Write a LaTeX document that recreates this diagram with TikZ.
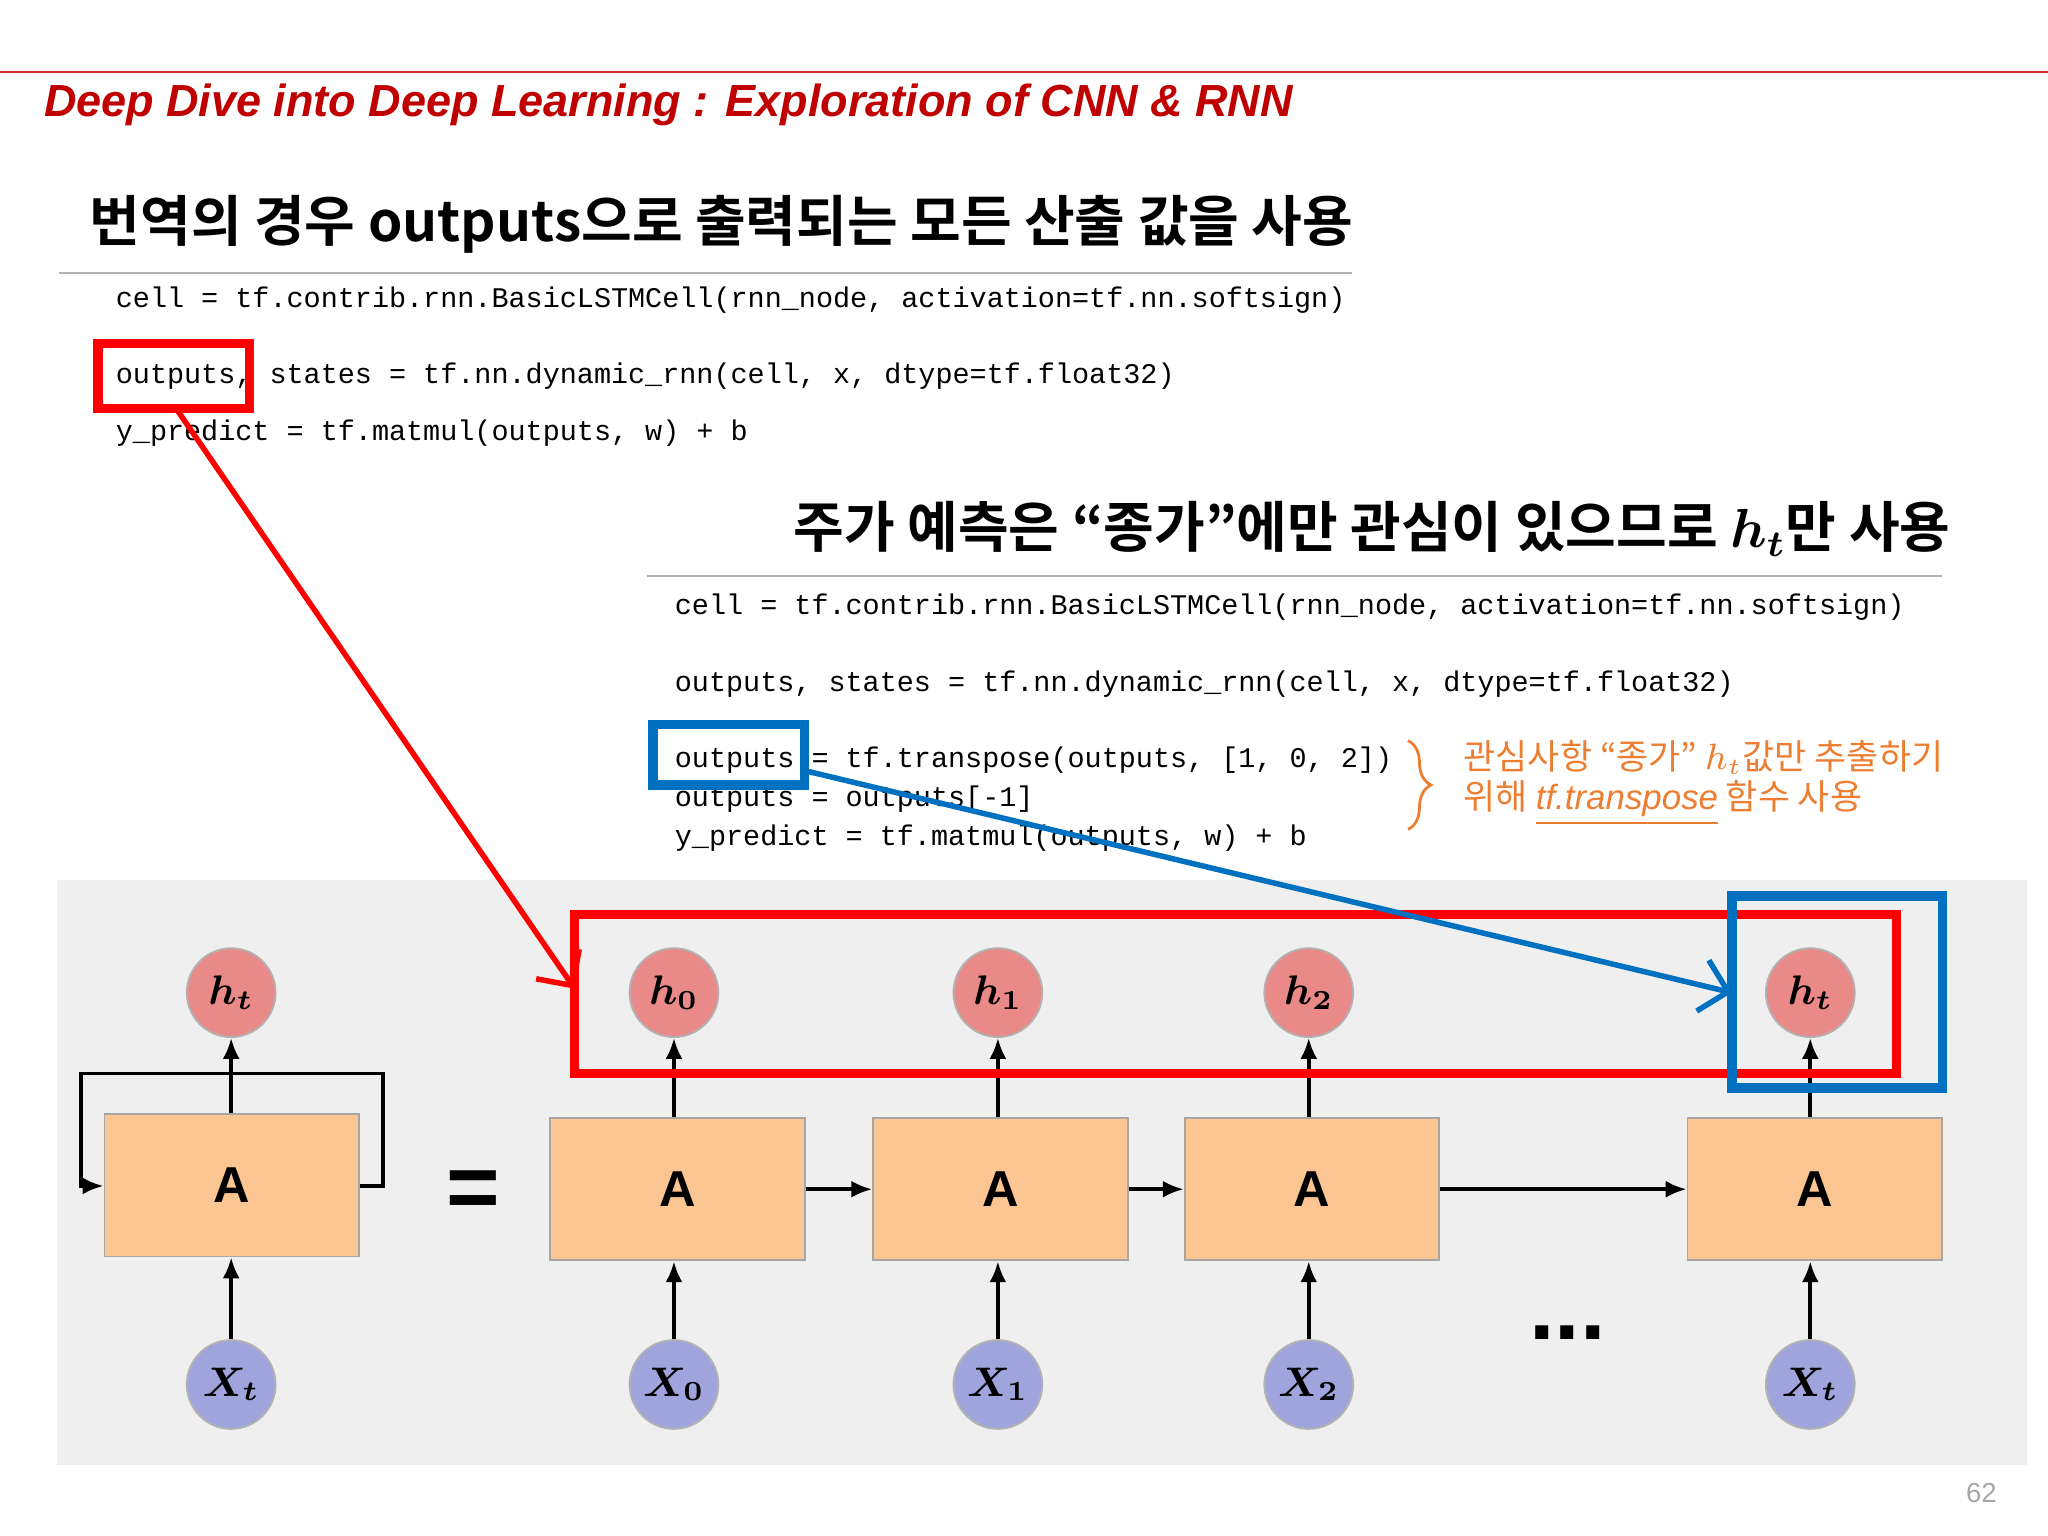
\documentclass[tikz,border=0pt]{standalone}
\usepackage{bm}
\usepackage{fontspec}
\setmainfont{Liberation Sans}
\newfontfamily\kr{Noto Sans CJK KR}
\newfontfamily\krb{Noto Sans CJK KR}[BoldFont={* Bold}]
\newfontfamily\codef{Liberation Mono}
\newfontfamily\lsans{Liberation Sans}
\usetikzlibrary{arrows.meta,decorations.pathreplacing}
\definecolor{titlered}{RGB}{192,0,0}
\definecolor{boxfill}{RGB}{252,198,146}
\definecolor{hfill}{RGB}{234,138,136}
\definecolor{xfill}{RGB}{160,164,220}
\definecolor{bgg}{RGB}{239,239,239}
\definecolor{myblue}{RGB}{0,112,192}
\definecolor{myorange}{RGB}{237,125,49}
\tikzset{
 abox/.style={draw=gray!70,fill=boxfill,minimum width=1.95cm,minimum height=1.09cm,font=\fontsize{11}{11}\selectfont\bfseries},
 hc/.style={circle,draw=gray!60,fill=hfill,minimum size=0.68cm,inner sep=0pt,font=\fontsize{9}{9}\selectfont},
 xc/.style={circle,draw=gray!60,fill=xfill,minimum size=0.68cm,inner sep=0pt,font=\fontsize{9}{9}\selectfont},
 arr/.style={-{Latex[length=1.6mm,width=1.3mm]},line width=0.8pt},
 code/.style={anchor=west,inner sep=0pt,font=\codef\fontsize{6.2}{6.2}\selectfont},
 note/.style={anchor=west,inner sep=0pt,text=myorange,font=\kr\fontsize{7.6}{7.6}\selectfont},
}
\begin{document}
\begin{tikzpicture}
\useasboundingbox (0,0) rectangle (15.68,-11.76);
\draw[titlered!80,line width=0.5pt] (0,-0.55) -- (15.68,-0.55);
\node[anchor=west,inner sep=0pt,text=titlered,font=\fontsize{9.8}{9.8}\selectfont\bfseries\itshape] (title) at (0.33,-0.80) {Deep Dive into Deep Learning : Exploration of CNN \& RNN};
\node[anchor=west,inner sep=0pt,font=\krb\fontsize{12}{12}\selectfont\bfseries] (h1) at (0.68,-1.72) {번역의 경우 outputs으로 출력되는 모든 산출 값을 사용};
\draw[gray!60] (0.45,-2.09) -- (10.35,-2.09);
\node[code] (c1) at (0.88,-2.30) {cell = tf.contrib.rnn.BasicLSTMCell(rnn\_node, activation=tf.nn.softsign)};
\node[code] (c2) at (0.88,-2.88) {outputs, states = tf.nn.dynamic\_rnn(cell, x, dtype=tf.float32)};
\node[code] (c3) at (0.88,-3.32) {y\_predict = tf.matmul(outputs, w) + b};
\node[anchor=west,inner sep=0pt,font=\krb\fontsize{12}{12}\selectfont\bfseries] (h2) at (6.07,-4.05) {주가 예측은 “종가”에만 관심이 있으므로 $\bm{h_t}$만 사용};
\draw[gray!60] (4.95,-4.41) -- (14.87,-4.41);
\node[code] (d1) at (5.16,-4.65) {cell = tf.contrib.rnn.BasicLSTMCell(rnn\_node, activation=tf.nn.softsign)};
\node[code] (d2) at (5.16,-5.24) {outputs, states = tf.nn.dynamic\_rnn(cell, x, dtype=tf.float32)};
\node[code] (d3) at (5.16,-5.82) {outputs = tf.transpose(outputs, [1, 0, 2])};
\node[code] (d4) at (5.16,-6.12) {outputs = outputs[-1]};
\node[code] (d5) at (5.16,-6.42) {y\_predict = tf.matmul(outputs, w) + b};
\draw[myorange,line width=0.6pt,decorate,decoration={brace,amplitude=5pt}] (10.78,-5.67) -- (10.78,-6.35);
\node[note] (o1) at (11.2,-5.80) {관심사항 “종가” $h_t$값만 추출하기};
\node[note] (o2) at (11.2,-6.15) {위해 \underline{\lsans\itshape tf.transpose} 함수 사용};
\fill[bgg] (0.44,-6.74) rectangle (15.52,-11.22);
% boxes
\node[abox] (A0) at (1.775,-9.075) {A};
\node[abox] (A1) at (5.185,-9.105) {A};
\node[abox] (A2) at (7.66,-9.105) {A};
\node[abox] (A3) at (10.045,-9.105) {A};
\node[abox] (A4) at (13.895,-9.105) {A};
\node[hc] (H0) at (1.77,-7.60) {$\bm{h_t}$};
\node[hc] (H1) at (5.16,-7.60) {$\bm{h_0}$};
\node[hc] (H2) at (7.64,-7.60) {$\bm{h_1}$};
\node[hc] (H3) at (10.02,-7.60) {$\bm{h_2}$};
\node[hc] (H4) at (13.86,-7.60) {$\bm{h_t}$};
\node[xc] (X0) at (1.77,-10.60) {$\bm{X_t}$};
\node[xc] (X1) at (5.16,-10.60) {$\bm{X_0}$};
\node[xc] (X2) at (7.64,-10.60) {$\bm{X_1}$};
\node[xc] (X3) at (10.02,-10.60) {$\bm{X_2}$};
\node[xc] (X4) at (13.86,-10.60) {$\bm{X_t}$};
\foreach \i in {0,...,4}{
  \draw[arr] (X\i) -- (X\i |- A\i.south);
  \draw[arr] (H\i |- A\i.north) -- (H\i);
}
\draw[arr] (A1) -- (A2);
\draw[arr] (A2) -- (A3);
\draw[arr] (A3) -- (A4);
\coordinate (L1) at (2.93,-9.08);
\draw[arr] (A0.east |- L1) -- (L1) -- (2.93,-8.22) -- (0.62,-8.22) -- (0.62,-9.08) -- (A0.west |- L1);
\node[font=\fontsize{20}{20}\selectfont\bfseries] (eq) at (3.62,-9.15) {=};
\node[font=\fontsize{20}{20}\selectfont\bfseries] (dots) at (12.0,-10.2) {...};
% highlight boxes
\draw[red,line width=2pt] (4.40,-7.00) rectangle (14.52,-8.22);
\draw[myblue,line width=2pt] (13.26,-6.86) rectangle (14.87,-8.33);
\draw[red,line width=2pt] (0.75,-2.63) rectangle (1.91,-3.13);
\draw[myblue,line width=2pt] (5.00,-5.55) rectangle (6.16,-6.01);
\coordinate (ra) at (4.40,-7.57);
\coordinate (ba) at (13.26,-7.60);
\draw[red,line width=1.2pt,-{Straight Barb[length=2mm]}] (1.35,-3.13) -- (ra);
\draw[myblue,line width=1.2pt,-{Straight Barb[length=2mm]}] (6.16,-5.90) -- (ba);
\node[text=gray!70,font=\fontsize{6}{6}\selectfont] (pg) at (15.17,-11.43) {62};
\end{tikzpicture}
\end{document}
